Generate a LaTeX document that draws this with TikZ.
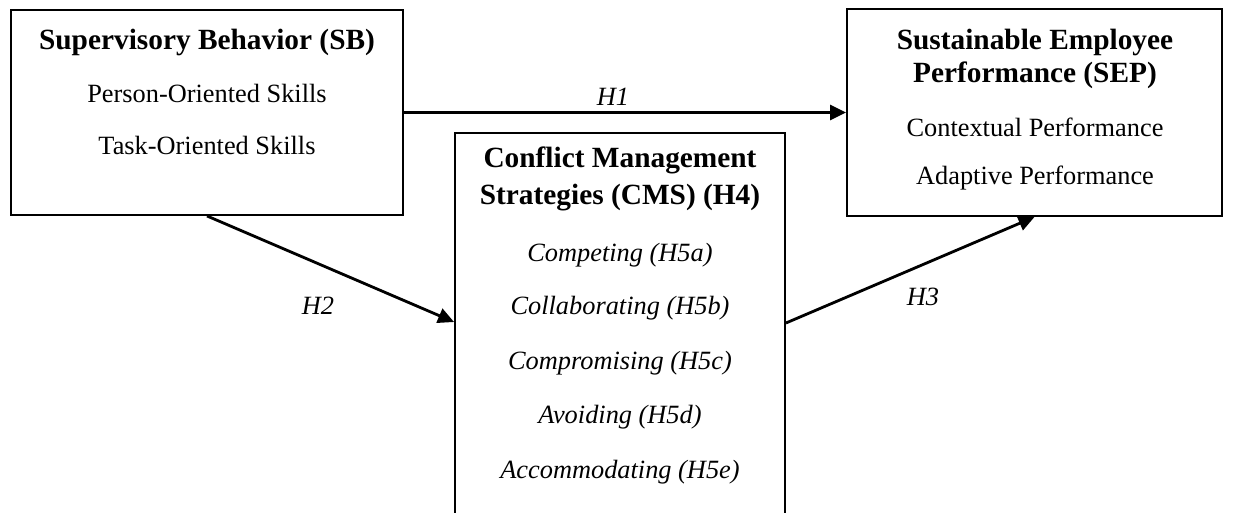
\documentclass[tikz,border=0pt]{standalone}
\usepackage{fontspec}
\setmainfont{Liberation Serif}
\usetikzlibrary{arrows.meta,calc}
\tikzset{
  box/.style={draw,line width=1.1pt,inner sep=0pt},
  txt/.style={font=\fontsize{15}{18}\selectfont},
  head/.style={font=\fontsize{16.7}{20}\selectfont\bfseries},
  hyp/.style={font=\fontsize{15}{18}\selectfont\itshape},
  conn/.style={-{Triangle[length=0.32cm,width=0.3cm]},line width=1.6pt}
}
\begin{document}
\begin{tikzpicture}[x=0.02cm,y=0.02cm]
\useasboundingbox (0,0) rectangle (1234,-512);
\clip (0,0) rectangle (1234,-512);
\node [box,minimum width=7.84cm,minimum height=4.1cm] (sb) at (207,-112.5) {};
\node [box,minimum width=7.5cm,minimum height=4.14cm] (sep) at (1034.5,-112.5) {};
\node [box,minimum width=6.6cm,minimum height=8.4cm] (cms) at (620,-343) {};
\node [head] (sbT) at (207,-42) {Supervisory Behavior (SB)};
\node [txt] (sbA) at (207,-93) {Person-Oriented Skills};
\node [txt] (sbB) at (207,-145) {Task-Oriented Skills};
\node [head] (sepT) at (1035,-42) {Sustainable Employee};
\node [head] (sepU) at (1035,-75) {Performance (SEP)};
\node [txt] (sepA) at (1035,-127) {Contextual Performance};
\node [txt] (sepB) at (1035,-178) {Adaptive Performance};
\node [head] (cmsT) at (620,-160) {Conflict Management};
\node [head] (cmsU) at (620,-198) {Strategies (CMS) (H4)};
\node [hyp] (cmsA) at (620,-255) {Competing (H5a)};
\node [hyp] (cmsB) at (620,-308) {Collaborating (H5b)};
\node [hyp] (cmsC) at (620,-363) {Compromising (H5c)};
\node [hyp] (cmsD) at (620,-417) {Avoiding (H5d)};
\node [hyp] (cmsE) at (620,-472) {Accommodating (H5e)};
\draw [conn] (sb.east) -- (sep.west);
\node [hyp] (h1) at (613,-97) {H1};
\draw [conn] (sb.south) -- ($(cms.west)+(0,21)$);
\node [hyp] (h2) at (318,-306) {H2};
\draw [conn] ($(cms.east)+(0,20)$) -- (sep.south);
\node [hyp] (h3) at (923,-297) {H3};
\end{tikzpicture}
\end{document}
